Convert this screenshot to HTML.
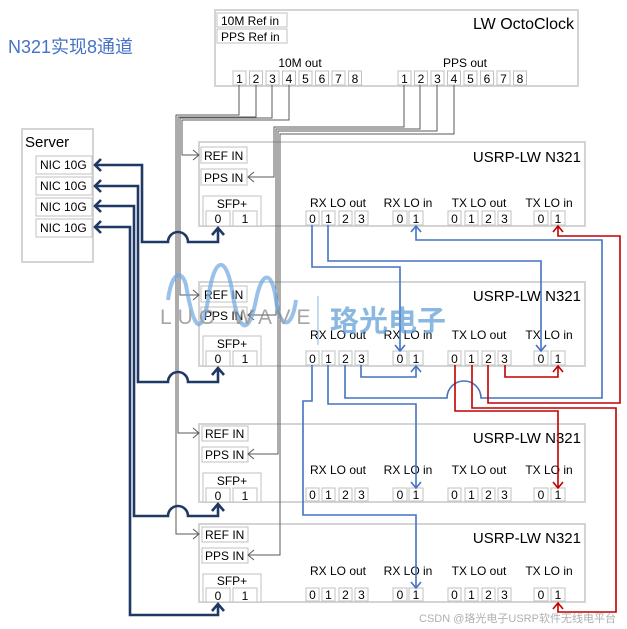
<!DOCTYPE html>
<html><head><meta charset="utf-8"><style>
html,body{margin:0;padding:0;background:#fff;}
svg{display:block;font-family:"Liberation Sans","Noto Sans CJK SC",sans-serif;}
.bx{fill:#fff;stroke:#d0d0d0;stroke-width:1.8}
.sb{fill:#fff;stroke:#c0c0c0;stroke-width:1}
.t{font-size:12px;fill:#000}
.p{font-size:12px;fill:#000;text-anchor:middle}
.ti{font-size:15px;fill:#000;text-anchor:end}
.g{fill:none;stroke:#595959;stroke-width:1}
.n{fill:none;stroke:#203864;stroke-width:2.6}
.b{fill:none;stroke:#4472c4;stroke-width:1.6}
.r{fill:none;stroke:#c00000;stroke-width:1.6}
</style></head><body>
<svg width="627" height="629" viewBox="0 0 627 629">
<text x="8" y="53" style="font-size:18px;fill:#4472c4">N321实现8通道</text>

<rect class="bx" x="215" y="10" width="363" height="76"/>
<text class="ti" x="574" y="29" style="font-size:16px">LW OctoClock</text>
<rect class="sb" x="217" y="13" width="70" height="14"/><text class="t" x="221" y="25">10M Ref in</text>
<rect class="sb" x="217" y="29" width="70" height="14"/><text class="t" x="221" y="41">PPS Ref in</text>
<text class="p" x="300" y="67">10M out</text>
<text class="p" x="465" y="67">PPS out</text>
<g>
<rect class="sb" x="233" y="71" width="13" height="14"/><text class="p" x="239.5" y="83">1</text>
<rect class="sb" x="249.5" y="71" width="13" height="14"/><text class="p" x="256" y="83">2</text>
<rect class="sb" x="266" y="71" width="13" height="14"/><text class="p" x="272.5" y="83">3</text>
<rect class="sb" x="282.5" y="71" width="13" height="14"/><text class="p" x="289" y="83">4</text>
<rect class="sb" x="299" y="71" width="13" height="14"/><text class="p" x="305.5" y="83">5</text>
<rect class="sb" x="315.5" y="71" width="13" height="14"/><text class="p" x="322" y="83">6</text>
<rect class="sb" x="332" y="71" width="13" height="14"/><text class="p" x="338.5" y="83">7</text>
<rect class="sb" x="348.5" y="71" width="13" height="14"/><text class="p" x="355" y="83">8</text>
<rect class="sb" x="398" y="71" width="13" height="14"/><text class="p" x="404.5" y="83">1</text>
<rect class="sb" x="414.5" y="71" width="13" height="14"/><text class="p" x="421" y="83">2</text>
<rect class="sb" x="431" y="71" width="13" height="14"/><text class="p" x="437.5" y="83">3</text>
<rect class="sb" x="447.5" y="71" width="13" height="14"/><text class="p" x="454" y="83">4</text>
<rect class="sb" x="464" y="71" width="13" height="14"/><text class="p" x="470.5" y="83">5</text>
<rect class="sb" x="480.5" y="71" width="13" height="14"/><text class="p" x="487" y="83">6</text>
<rect class="sb" x="497" y="71" width="13" height="14"/><text class="p" x="503.5" y="83">7</text>
<rect class="sb" x="513.5" y="71" width="13" height="14"/><text class="p" x="520" y="83">8</text>
</g>

<rect class="bx" x="22" y="129" width="71" height="133"/>
<text x="25" y="147" style="font-size:15px">Server</text>
<rect class="sb" x="36" y="156" width="56" height="18"/><text class="t" x="40" y="169">NIC 10G</text>
<rect class="sb" x="36" y="177" width="56" height="18"/><text class="t" x="40" y="190">NIC 10G</text>
<rect class="sb" x="36" y="198" width="56" height="18"/><text class="t" x="40" y="211">NIC 10G</text>
<rect class="sb" x="36" y="219" width="56" height="18"/><text class="t" x="40" y="232">NIC 10G</text>

<g transform="translate(0,142)">
<rect class="bx" x="199" y="0" width="386" height="84"/>
<text class="ti" x="581" y="20">USRP-LW N321</text>
<rect class="sb" x="201" y="5" width="46" height="16"/><text class="t" x="204" y="18">REF IN</text>
<rect class="sb" x="201" y="27" width="46" height="16"/><text class="t" x="204" y="40">PPS IN</text>
<rect class="sb" x="203" y="54" width="58" height="30"/><text class="p" x="232" y="66">SFP+</text>
<rect class="sb" x="206" y="69" width="24" height="15"/><text class="p" x="218" y="81">0</text>
<rect class="sb" x="233" y="69" width="24" height="15"/><text class="p" x="245" y="81">1</text>
<text class="p" x="338" y="65">RX LO out</text><text class="p" x="408" y="65">RX LO in</text>
<text class="p" x="479" y="65">TX LO out</text><text class="p" x="549" y="65">TX LO in</text>
<rect class="sb" x="306" y="69" width="13" height="14"/><text class="p" x="312.5" y="81">0</text>
<rect class="sb" x="322" y="69" width="13" height="14"/><text class="p" x="328.5" y="81">1</text>
<rect class="sb" x="339" y="69" width="13" height="14"/><text class="p" x="345.5" y="81">2</text>
<rect class="sb" x="355" y="69" width="13" height="14"/><text class="p" x="361.5" y="81">3</text>
<rect class="sb" x="393" y="69" width="14" height="14"/><text class="p" x="400" y="81">0</text>
<rect class="sb" x="409" y="69" width="14" height="14"/><text class="p" x="416" y="81">1</text>
<rect class="sb" x="448" y="69" width="13" height="14"/><text class="p" x="454.5" y="81">0</text>
<rect class="sb" x="465" y="69" width="13" height="14"/><text class="p" x="471.5" y="81">1</text>
<rect class="sb" x="482" y="69" width="13" height="14"/><text class="p" x="488.5" y="81">2</text>
<rect class="sb" x="498" y="69" width="13" height="14"/><text class="p" x="504.5" y="81">3</text>
<rect class="sb" x="534" y="69" width="14" height="14"/><text class="p" x="541" y="81">0</text>
<rect class="sb" x="551" y="69" width="14" height="14"/><text class="p" x="558" y="81">1</text>
</g>
<g transform="translate(0,282)">
<rect class="bx" x="199" y="0" width="386" height="84"/>
<text class="ti" x="581" y="19">USRP-LW N321</text>
<rect class="sb" x="201" y="4" width="46" height="16"/><text class="t" x="204" y="17">REF IN</text>
<rect class="sb" x="201" y="25" width="46" height="16"/><text class="t" x="204" y="38">PPS IN</text>
<rect class="sb" x="203" y="54" width="58" height="30"/><text class="p" x="232" y="66">SFP+</text>
<rect class="sb" x="206" y="69" width="24" height="15"/><text class="p" x="218" y="81">0</text>
<rect class="sb" x="233" y="69" width="24" height="15"/><text class="p" x="245" y="81">1</text>
<text class="p" x="338" y="57">RX LO out</text><text class="p" x="408" y="57">RX LO in</text>
<text class="p" x="479" y="57">TX LO out</text><text class="p" x="549" y="57">TX LO in</text>
<rect class="sb" x="306" y="69" width="13" height="14"/><text class="p" x="312.5" y="81">0</text>
<rect class="sb" x="322" y="69" width="13" height="14"/><text class="p" x="328.5" y="81">1</text>
<rect class="sb" x="339" y="69" width="13" height="14"/><text class="p" x="345.5" y="81">2</text>
<rect class="sb" x="355" y="69" width="13" height="14"/><text class="p" x="361.5" y="81">3</text>
<rect class="sb" x="393" y="69" width="14" height="14"/><text class="p" x="400" y="81">0</text>
<rect class="sb" x="409" y="69" width="14" height="14"/><text class="p" x="416" y="81">1</text>
<rect class="sb" x="448" y="69" width="13" height="14"/><text class="p" x="454.5" y="81">0</text>
<rect class="sb" x="465" y="69" width="13" height="14"/><text class="p" x="471.5" y="81">1</text>
<rect class="sb" x="482" y="69" width="13" height="14"/><text class="p" x="488.5" y="81">2</text>
<rect class="sb" x="498" y="69" width="13" height="14"/><text class="p" x="504.5" y="81">3</text>
<rect class="sb" x="534" y="69" width="14" height="14"/><text class="p" x="541" y="81">0</text>
<rect class="sb" x="551" y="69" width="14" height="14"/><text class="p" x="558" y="81">1</text>
</g>
<g transform="translate(0,424)">
<rect class="bx" x="199" y="0" width="386" height="78"/>
<text class="ti" x="581" y="19">USRP-LW N321</text>
<rect class="sb" x="202" y="2" width="46" height="15"/><text class="t" x="205" y="14">REF IN</text>
<rect class="sb" x="202" y="23" width="46" height="15"/><text class="t" x="205" y="35">PPS IN</text>
<rect class="sb" x="203" y="49" width="58" height="29"/><text class="p" x="232" y="61">SFP+</text>
<rect class="sb" x="206" y="64" width="24" height="14"/><text class="p" x="218" y="76">0</text>
<rect class="sb" x="233" y="64" width="24" height="14"/><text class="p" x="245" y="76">1</text>
<text class="p" x="338" y="50">RX LO out</text><text class="p" x="408" y="50">RX LO in</text>
<text class="p" x="479" y="50">TX LO out</text><text class="p" x="549" y="50">TX LO in</text>
<rect class="sb" x="306" y="64" width="13" height="13"/><text class="p" x="312.5" y="75">0</text>
<rect class="sb" x="322" y="64" width="13" height="13"/><text class="p" x="328.5" y="75">1</text>
<rect class="sb" x="339" y="64" width="13" height="13"/><text class="p" x="345.5" y="75">2</text>
<rect class="sb" x="355" y="64" width="13" height="13"/><text class="p" x="361.5" y="75">3</text>
<rect class="sb" x="393" y="64" width="14" height="13"/><text class="p" x="400" y="75">0</text>
<rect class="sb" x="409" y="64" width="14" height="13"/><text class="p" x="416" y="75">1</text>
<rect class="sb" x="448" y="64" width="13" height="13"/><text class="p" x="454.5" y="75">0</text>
<rect class="sb" x="465" y="64" width="13" height="13"/><text class="p" x="471.5" y="75">1</text>
<rect class="sb" x="482" y="64" width="13" height="13"/><text class="p" x="488.5" y="75">2</text>
<rect class="sb" x="498" y="64" width="13" height="13"/><text class="p" x="504.5" y="75">3</text>
<rect class="sb" x="534" y="64" width="14" height="13"/><text class="p" x="541" y="75">0</text>
<rect class="sb" x="551" y="64" width="14" height="13"/><text class="p" x="558" y="75">1</text>
</g>
<g transform="translate(0,524)">
<rect class="bx" x="199" y="0" width="386" height="78"/>
<text class="ti" x="581" y="19">USRP-LW N321</text>
<rect class="sb" x="202" y="3" width="46" height="15"/><text class="t" x="205" y="15">REF IN</text>
<rect class="sb" x="202" y="24" width="46" height="15"/><text class="t" x="205" y="36">PPS IN</text>
<rect class="sb" x="203" y="50" width="58" height="28"/><text class="p" x="232" y="61">SFP+</text>
<rect class="sb" x="206" y="64" width="24" height="14"/><text class="p" x="218" y="76">0</text>
<rect class="sb" x="233" y="64" width="24" height="14"/><text class="p" x="245" y="76">1</text>
<text class="p" x="338" y="51">RX LO out</text><text class="p" x="408" y="51">RX LO in</text>
<text class="p" x="479" y="51">TX LO out</text><text class="p" x="549" y="51">TX LO in</text>
<rect class="sb" x="306" y="64" width="13" height="13"/><text class="p" x="312.5" y="75">0</text>
<rect class="sb" x="322" y="64" width="13" height="13"/><text class="p" x="328.5" y="75">1</text>
<rect class="sb" x="339" y="64" width="13" height="13"/><text class="p" x="345.5" y="75">2</text>
<rect class="sb" x="355" y="64" width="13" height="13"/><text class="p" x="361.5" y="75">3</text>
<rect class="sb" x="393" y="64" width="14" height="13"/><text class="p" x="400" y="75">0</text>
<rect class="sb" x="409" y="64" width="14" height="13"/><text class="p" x="416" y="75">1</text>
<rect class="sb" x="448" y="64" width="13" height="13"/><text class="p" x="454.5" y="75">0</text>
<rect class="sb" x="465" y="64" width="13" height="13"/><text class="p" x="471.5" y="75">1</text>
<rect class="sb" x="482" y="64" width="13" height="13"/><text class="p" x="488.5" y="75">2</text>
<rect class="sb" x="498" y="64" width="13" height="13"/><text class="p" x="504.5" y="75">3</text>
<rect class="sb" x="534" y="64" width="14" height="13"/><text class="p" x="541" y="75">0</text>
<rect class="sb" x="551" y="64" width="14" height="13"/><text class="p" x="558" y="75">1</text>
</g>

<path class="g" d="M239 85V115H176V534H199"/>
<path class="g" d="M256 85V117H178V433H199"/>
<path class="g" d="M272 85V118H180V295H199"/>
<path class="g" d="M289 85V120H182V155H199"/>
<path class="g" d="M193 529L199 534L193 539M193 428L199 433L193 438M193 290L199 295L193 300M193 150L199 155L193 160"/>
<path class="g" d="M404 85V127H274V177H248"/>
<path class="g" d="M420 85V129H276V315H248"/>
<path class="g" d="M437 85V131H278V454H248"/>
<path class="g" d="M454 85V134H280V555H248"/>
<path class="g" d="M254 172L248 177L254 182M254 310L248 315L254 320M254 449L248 454L254 459M254 550L248 555L254 560"/>

<path class="n" d="M95 165H142V242H168A10 10 0 0 1 188 242H218V228"/>
<path class="n" d="M95 186H138V382H168A10 10 0 0 1 188 382H218V368"/>
<path class="n" d="M95 206H134V516H168A10 10 0 0 1 188 516H218V504"/>
<path class="n" d="M95 227H130V615H218V604"/>
<path class="n" d="M101 159L95 165L101 171M101 180L95 186L101 192M101 200L95 206L101 212M101 221L95 227L101 233"/>
<path class="n" d="M212 235L218 228L224 235M212 375L218 368L224 375M212 511L218 504L224 511M212 611L218 604L224 611"/>

<path class="b" d="M312 225V267H400V351"/>
<path class="b" d="M328 225V261H541V351"/>
<path class="b" d="M345 365V398H447A17 17 0 0 1 481 398H602V240H416V226"/>
<path class="b" d="M361 365V377H416V366"/>
<path class="b" d="M312 365V401H303V515H416V588"/>
<path class="b" d="M328 365V404H416V488"/>
<path class="b" d="M395 345L400 351L405 345M536 345L541 351L546 345M411 232L416 226L421 232M411 372L416 366L421 372M411 582L416 588L421 582M411 482L416 488L421 482"/>

<path class="r" d="M455 365V411H558V488"/>
<path class="r" d="M472 365V408H616V612H558V603"/>
<path class="r" d="M488 365V403H620V236H558V226"/>
<path class="r" d="M505 365V377H558V366"/>
<path class="r" d="M553 482L558 488L563 482M553 609L558 603L563 609M553 232L558 226L563 232M553 372L558 366L563 372"/>

<g opacity="0.7">
<path d="M168 300 C172 270 182 270 186 285 C192 320 200 345 208 300 C214 255 226 255 232 290 C238 330 248 340 256 300 C262 270 272 270 276 300 C280 330 292 330 296 300" fill="none" stroke="#6fa8e0" stroke-width="4"/>
<text x="160" y="324" style="font-size:21px;fill:#808080;letter-spacing:6px">LUO WAVE</text>
<line x1="318" y1="296" x2="318" y2="345" stroke="#6fa8e0" stroke-width="1.2"/>
<text x="330" y="331" style="font-size:29px;fill:#5b9bd5;font-family:'Noto Sans CJK SC',sans-serif;font-weight:bold">珞光电子</text>
</g>
<text x="419" y="622" style="font-size:11px;fill:#b0b0b0">CSDN @珞光电子USRP软件无线电平台</text>
</svg>
</body></html>
